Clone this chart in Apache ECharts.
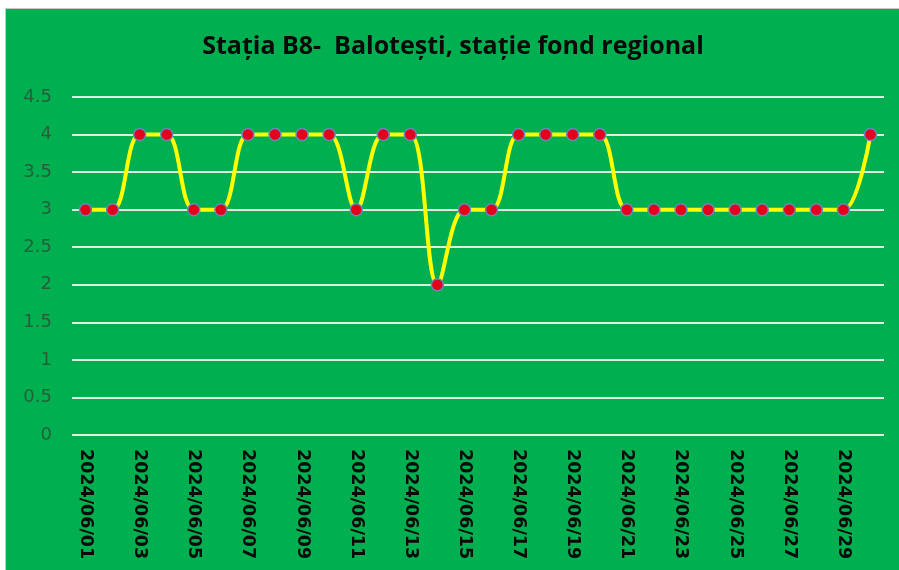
<!DOCTYPE html>
<html>
<head>
<meta charset="utf-8">
<script src="https://cdn.jsdelivr.net/npm/echarts@6/dist/echarts.min.js"></script>
<style>
  html, body { margin: 0; padding: 0; background: #ffffff; }
  #wrap { position: absolute; left: 5px; top: 8px; width: 894px; height: 562px;
          border-left: 1px solid #c8c8c8; border-top: 1px solid #c8c8c8; }
  #main { width: 894px; height: 562px; background: #00b050; }
</style>
</head>
<body>
<div id="wrap"><div id="main"></div></div>
<script>
// zilele lunii iunie 2024
var days = ['2024/06/01', '2024/06/02', '2024/06/03', '2024/06/04', '2024/06/05',
    '2024/06/06', '2024/06/07', '2024/06/08', '2024/06/09', '2024/06/10',
    '2024/06/11', '2024/06/12', '2024/06/13', '2024/06/14', '2024/06/15',
    '2024/06/16', '2024/06/17', '2024/06/18', '2024/06/19', '2024/06/20',
    '2024/06/21', '2024/06/22', '2024/06/23', '2024/06/24', '2024/06/25',
    '2024/06/26', '2024/06/27', '2024/06/28', '2024/06/29', '2024/06/30'];
var values = [3, 3, 4, 4, 3, 3, 4, 4, 4, 4,
    3, 4, 4, 2, 3, 3, 4, 4, 4, 4,
    3, 3, 3, 3, 3, 3, 3, 3, 3, 4];
var titleText = 'Stația B8-  Balotești, stație fond regional';

var chartDom = document.getElementById('main');
var myChart = echarts.init(chartDom);
var option;

option = {
    backgroundColor: '#00b050',
    animation: false,
    title: {
        text: titleText,
        left: 'center',
        top: 20,
        textStyle: {
            fontFamily: 'Open Sans',
            fontWeight: 'bold',
            fontSize: 25,
            color: '#0a0a0a'
        }
    },
    grid: {
        left: 66,
        right: 16,
        top: 88,
        bottom: 136
    },
    xAxis: {
        type: 'category',
        data: days,
        boundaryGap: true,
        axisLine: { show: false },
        axisTick: { show: false },
        axisLabel: {
            interval: 1,
            rotate: -90,
            margin: 14,
            fontFamily: 'DejaVu Sans',
            fontWeight: 'bold',
            fontSize: 17.5,
            color: '#0a0a0a'
        }
    },
    yAxis: {
        type: 'value',
        min: 0,
        max: 4.5,
        interval: 0.5,
        axisLine: { show: false },
        axisTick: { show: false },
        axisLabel: {
            margin: 20,
            fontFamily: 'DejaVu Sans',
            fontSize: 18,
            color: '#23603a'
        },
        splitLine: {
            lineStyle: { color: '#dcefe0', width: 2 }
        }
    },
    series: [
        {
            type: 'line',
            data: values,
            smooth: 0.35,
            symbol: 'circle',
            symbolSize: 12,
            lineStyle: { color: '#ffff00', width: 4 },
            itemStyle: {
                color: '#e4001b',
                borderColor: '#6b86b8',
                borderWidth: 1.5
            },
            z: 3
        }
    ]
};

option && myChart.setOption(option);
</script>
</body>
</html>
